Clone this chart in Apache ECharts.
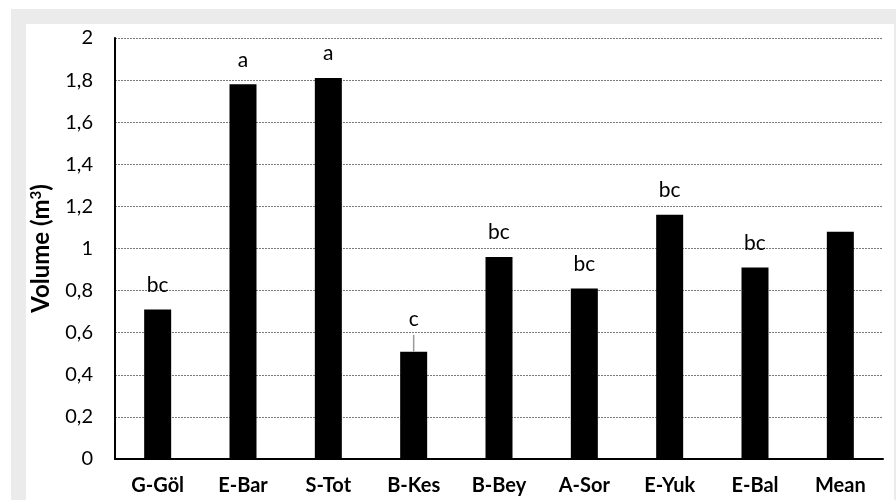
<!DOCTYPE html>
<html>
<head>
<meta charset="utf-8">
<script src="https://cdn.jsdelivr.net/npm/echarts@6/dist/echarts.min.js"></script>
<style>
  html, body { margin: 0; padding: 0; background: #ffffff; }
  #frame { position: absolute; left: 11px; top: 9px; width: 885px; height: 491px; background: #ebebeb; }
  #panel { position: absolute; left: 26px; top: 24px; width: 868px; height: 476px; background: #ffffff; }
  #chart { position: absolute; left: 0; top: 0; width: 896px; height: 500px; }
</style>
</head>
<body>
<div id="frame"></div>
<div id="panel"></div>
<div id="chart"></div>
<script>
// Mean volume per site, with significance letters
const sites = ['G-Göl', 'E-Bar', 'S-Tot', 'B-Kes', 'B-Bey', 'A-Sor', 'E-Yuk', 'E-Bal', 'Mean'];
const volume = [0.71, 1.78, 1.81, 0.51, 0.96, 0.81, 1.16, 0.91, 1.08];
const errorUp = [0, 0, 0, 0.08, 0, 0, 0, 0, 0];
const groups = ['bc', 'a', 'a', 'c', 'bc', 'bc', 'bc', 'bc', ''];
const yTicks = ['0', '0,2', '0,4', '0,6', '0,8', '1', '1,2', '1,4', '1,6', '1,8', '2'];

const FONT = 'Lato';
const chart = echarts.init(document.getElementById('chart'), null, { renderer: 'canvas' });

const barData = volume.map((v, i) => ({
  value: v,
  label: {
    show: groups[i] !== '',
    formatter: groups[i],
    distance: errorUp[i] > 0 ? 22 : 14
  }
}));

chart.setOption({
  animation: false,
  backgroundColor: 'transparent',
  grid: { left: 115, right: 13, top: 38, bottom: 41 },
  xAxis: {
    type: 'category',
    data: sites,
    axisLine: { lineStyle: { color: '#000', width: 2 } },
    axisTick: { show: false },
    axisLabel: { color: '#000', fontFamily: FONT, fontWeight: 'bold', fontSize: 20, margin: 17 }
  },
  yAxis: {
    type: 'value',
    min: 0, max: 2, interval: 0.2,
    name: 'Volume (m{sup|3})',
    nameLocation: 'middle',
    nameGap: 62,
    nameTextStyle: {
      color: '#000', fontFamily: FONT, fontWeight: 'bold', fontSize: 24,
      rich: {
        sup: { fontFamily: FONT, fontWeight: 'bold', fontSize: 15, verticalAlign: 'top', padding: [0, 0, 9, 0] }
      }
    },
    axisLine: { show: true, lineStyle: { color: '#000', width: 2 } },
    axisTick: { show: false },
    axisLabel: {
      color: '#000', fontFamily: FONT, fontSize: 20, margin: 22,
      formatter: (v) => yTicks[Math.round(v / 0.2)]
    },
    splitLine: { show: true, lineStyle: { color: '#7a7a7a', width: 1, type: [2, 1] } }
  },
  series: [
    {
      type: 'bar',
      data: barData,
      barWidth: 27,
      itemStyle: { color: '#000' },
      label: { position: 'top', color: '#000', fontFamily: FONT, fontSize: 21 },
      z: 2
    },
    {
      type: 'custom',
      data: volume.map((v, i) => [i, v, errorUp[i]]),
      renderItem: (params, api) => {
        const err = api.value(2);
        if (!err) return null;
        const base = api.coord([api.value(0), api.value(1)]);
        const top = api.coord([api.value(0), api.value(1) + err]);
        return {
          type: 'line',
          shape: { x1: base[0], y1: base[1], x2: top[0], y2: top[1] },
          style: { stroke: '#9a9a9a', lineWidth: 1.5 }
        };
      },
      z: 3
    }
  ]
});
</script>
</body>
</html>
